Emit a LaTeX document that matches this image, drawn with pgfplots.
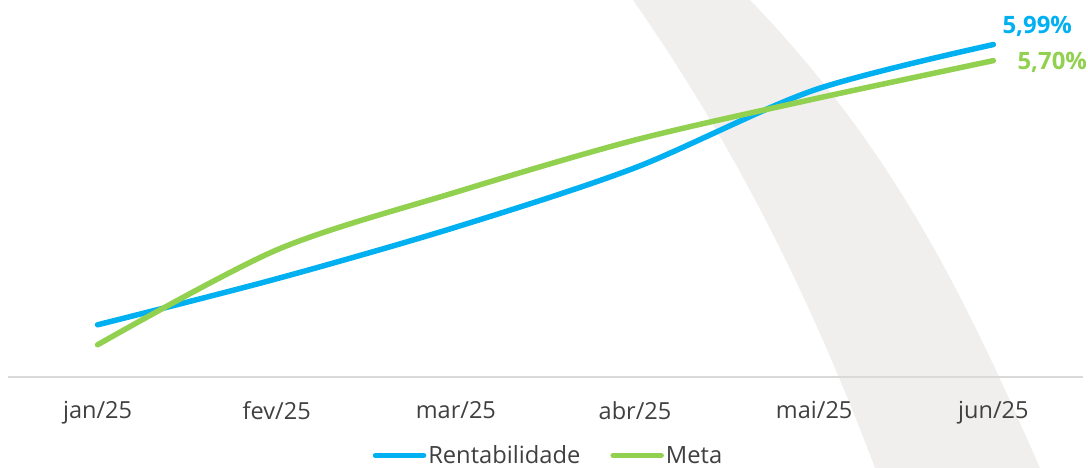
\documentclass[border=0pt]{standalone}
\usepackage{fontspec}
\setmainfont{Open Sans}
\usepackage{pgfplots}
\pgfplotsset{compat=1.18}
\definecolor{rblue}{RGB}{0,176,240}
\definecolor{mgreen}{RGB}{146,208,80}
\definecolor{band}{RGB}{241,239,238}
\definecolor{txt}{RGB}{64,64,64}
\definecolor{base}{RGB}{217,217,217}
\begin{document}
\begin{tikzpicture}[x=1bp,y=1bp]
\fill[band] (633,468) .. controls (742,312) and (816,156) .. (875,0)
  -- (1040,0) .. controls (971,156) and (901,312) .. (750,468) -- cycle;
\begin{axis}[
  at={(8bp,91bp)}, anchor=south west,
  scale only axis, width=1075bp, height=377bp,
  xmin=-0.5, xmax=5.5, ymin=0, ymax=6.793,
  clip=false,
  axis x line=bottom, axis y line=none,
  x axis line style={draw=base, line width=1.5bp, -},
  major tick length=0pt,
  xtick={0,1,2,3,4,5},
  xticklabels={jan/25,fev/25,mar/25,abr/25,mai/25,jun/25},
  xticklabel style={font=\fontsize{23.6}{28}\selectfont, text=txt, yshift=-21bp},
  legend style={at={(0.5028,-0.208)}, anchor=center, draw=none, fill=none,
    legend columns=2, font=\fontsize{23.8}{28}\selectfont, text=txt,
    /tikz/every even column/.append style={column sep=28bp}},
  legend image code/.code={\draw[#1, line cap=round] (-2bp,0bp) -- (46bp,0bp);},
]
\addplot[rblue, line width=5.5bp, smooth, line cap=round] coordinates {(0,0.94) (1,1.77) (2,2.70) (3,3.77) (4,5.17) (5,5.99)};
\addplot[mgreen, line width=5.5bp, smooth, line cap=round] coordinates {(0,0.58) (1,2.29) (2,3.33) (3,4.27) (4,5.01) (5,5.70)};
\legend{Rentabilidade, Meta}
\node[anchor=base west, inner sep=0pt, text=rblue, font=\bfseries\fontsize{24}{28}\selectfont, xshift=9bp, yshift=11.5bp] at (axis cs:5,5.99) {5,99\%};
\node[anchor=base west, inner sep=0pt, text=mgreen, font=\bfseries\fontsize{24}{28}\selectfont, xshift=24bp, yshift=-8.5bp] at (axis cs:5,5.70) {5,70\%};
\end{axis}
\pgfresetboundingbox
\path (0,0) rectangle (1088,468);
\end{tikzpicture}
\end{document}
